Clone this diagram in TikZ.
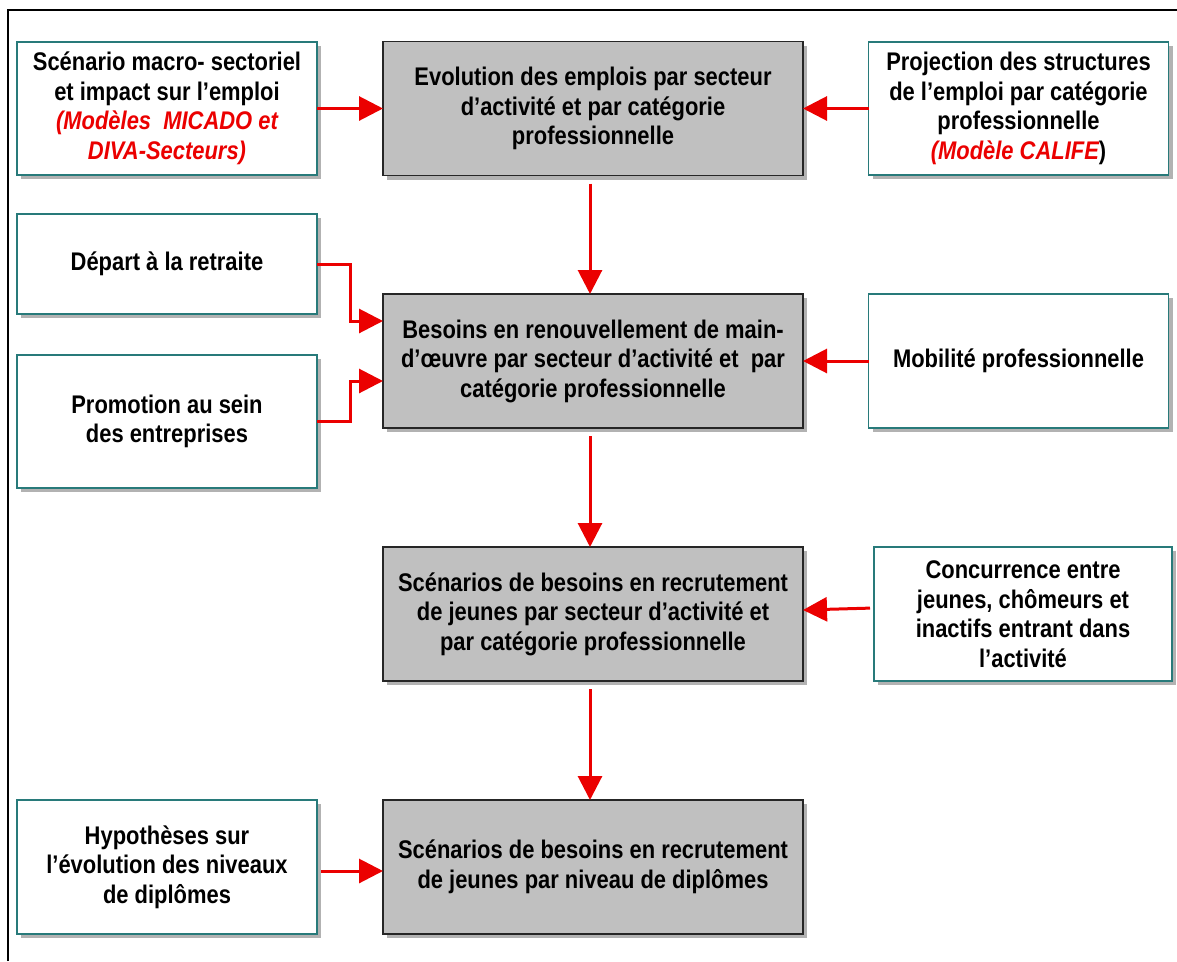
\documentclass[tikz,border=0pt]{standalone}
\usepackage{fontspec}
\setmainfont{Liberation Sans}[FakeStretch=0.86]
\usetikzlibrary{arrows.meta,shadows}
\definecolor{arrowred}{RGB}{235,0,0}
\definecolor{boxteal}{RGB}{40,122,122}
\definecolor{boxgray}{RGB}{192,192,192}
\newcommand{\model}[1]{{\color{arrowred}\itshape #1}}
\begin{document}
\begin{tikzpicture}[x=1pt,y=-1pt,
  every node/.style={font=\fontsize{25.5}{29.5}\selectfont\bfseries, align=center, inner sep=0pt, outer sep=0pt},
  inbox/.style={draw=boxteal, line width=1.4pt, fill=white, minimum width=300pt,
    drop shadow={shadow xshift=4pt, shadow yshift=-4pt, fill=black!30, opacity=1}},
  mainbox/.style={draw=black!85, line width=1.6pt, fill=boxgray, minimum width=420pt, minimum height=134pt,
    drop shadow={shadow xshift=4pt, shadow yshift=-4pt, fill=black!30, opacity=1}},
  feed/.style={draw=arrowred, line width=3pt, -{Triangle[length=24pt,width=24pt]}}]
\useasboundingbox (0,0) rectangle (1177,961);
\draw [line width=2pt] (8,961) -- (8,10) -- (1177,10);
% central chain
\node [mainbox] (evol) at (593,108.5) {Evolution des emplois par secteur\\d’activité et par catégorie\\professionnelle};
\node [mainbox] (renouv) at (593,361) {Besoins en renouvellement de main-\\d’œuvre par secteur d’activité et~ par\\catégorie professionnelle};
\node [mainbox] (recsect) at (593,614) {Scénarios de besoins en recrutement\\de jeunes par secteur d’activité et\\par catégorie professionnelle};
\node [mainbox] (recdipl) at (593,867) {Scénarios de besoins en recrutement\\de jeunes par niveau de diplômes};
% side inputs
\node [inbox, minimum height=133pt] (macro) at (167,108.5) {Scénario macro- sectoriel\\et impact sur l’emploi\\\model{(Modèles~ MICADO et}\\\model{DIVA-Secteurs)}};
\node [inbox, minimum height=133pt] (calife) at (1018.5,108.5) {Projection des structures\\de l’emploi par catégorie\\professionnelle\\\model{(Modèle CALIFE})};
\node [inbox, minimum height=100pt] (retraite) at (167,264) {Départ à la retraite};
\node [inbox, minimum height=133pt] (promo) at (167,421.5) {Promotion au sein\\des entreprises};
\node [inbox, minimum height=134pt] (mobil) at (1018.5,361) {Mobilité professionnelle};
\node [inbox, minimum height=134pt, minimum width=298pt] (concur) at (1023,614) {Concurrence entre\\jeunes, chômeurs et\\inactifs entrant dans\\l’activité};
\node [inbox, minimum height=134pt] (hypo) at (167,867) {Hypothèses sur\\l’évolution des niveaux\\de diplômes};
% connectors
\draw [feed] (macro) -- (evol);
\draw [feed] (calife) -- (evol);
\draw [feed, shorten <=8pt] ([xshift=-3pt]evol.south) -- ([xshift=-3pt]renouv.north);
\draw [feed] (retraite.east) -- ++(33,0) |- ([yshift=40pt]renouv.west);
\draw [feed] (promo.east) -- ++(33,0) |- ([yshift=-20pt]renouv.west);
\draw [feed] (mobil) -- (renouv);
\draw [feed, shorten <=8pt] ([xshift=-3pt]renouv.south) -- ([xshift=-3pt]recsect.north);
\draw [feed, shorten <=4pt] ([yshift=6pt]concur.west) -- ([yshift=4pt]recsect.east);
\draw [feed, shorten <=8pt] ([xshift=-3pt]recsect.south) -- ([xshift=-3pt]recdipl.north);
\draw [feed, shorten <=4pt] ([yshift=-4pt]hypo.east) -- ([yshift=-4pt]recdipl.west);
\end{tikzpicture}
\end{document}
